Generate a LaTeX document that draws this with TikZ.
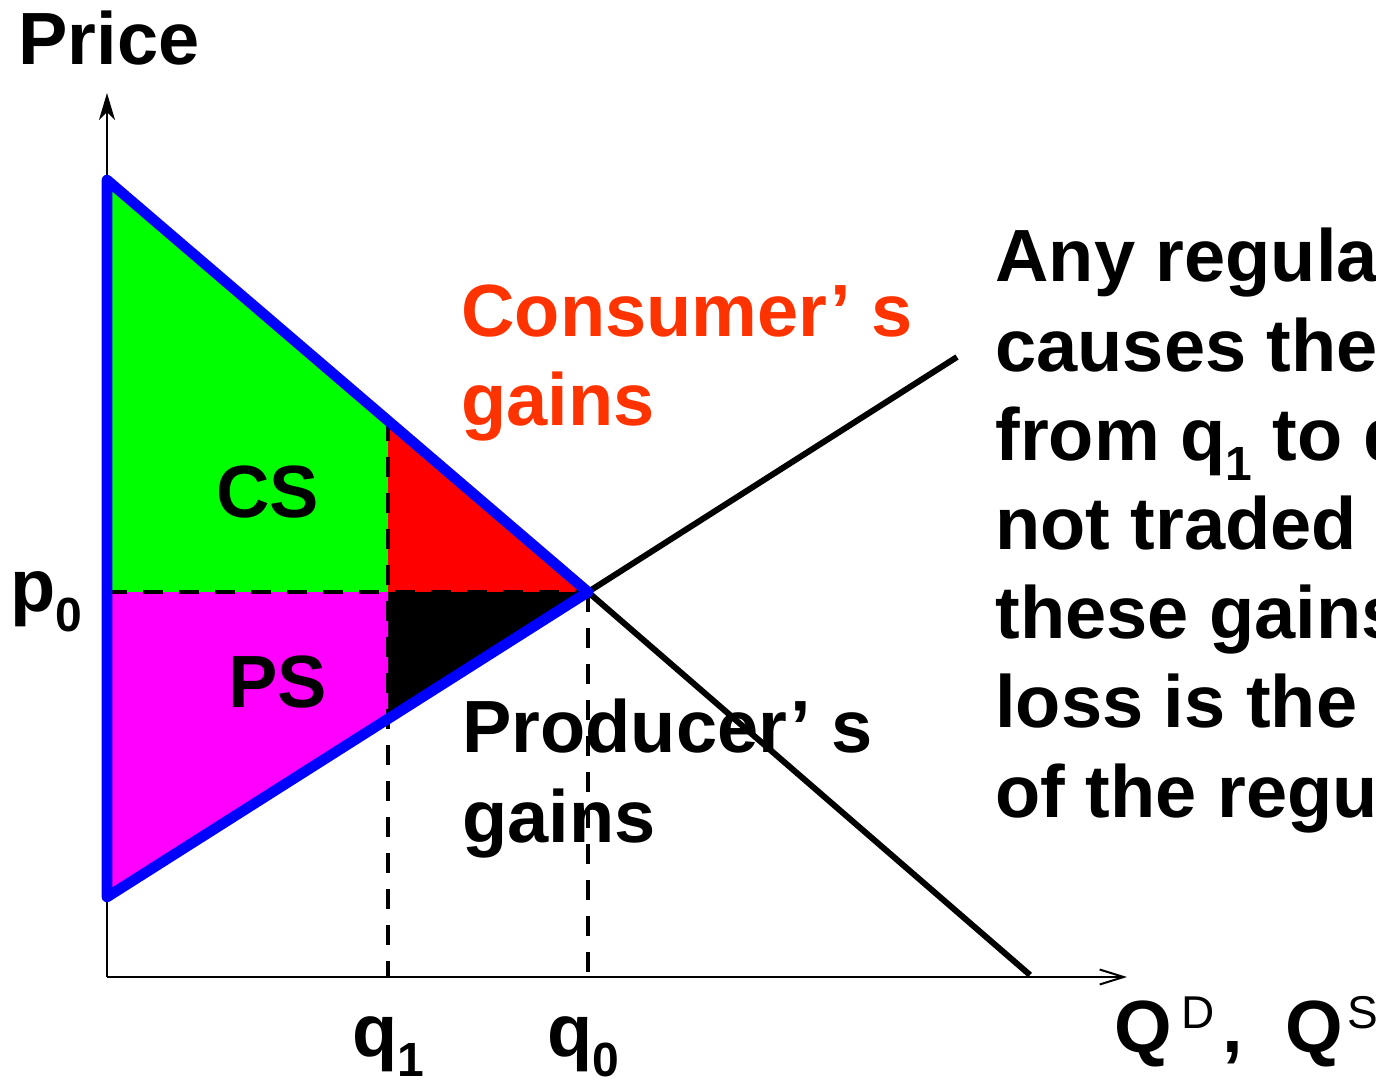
\documentclass[tikz,border=0pt]{standalone}
\usepackage{fontspec}
\setmainfont{Liberation Sans}
\usetikzlibrary{arrows.meta}
\definecolor{cgreen}{RGB}{0,255,0}
\definecolor{cred}{RGB}{255,0,0}
\definecolor{cmag}{RGB}{255,0,255}
\definecolor{cblue}{RGB}{0,0,255}
\definecolor{corange}{RGB}{255,51,0}
\newcommand\sbs[1]{\raisebox{-10pt}{\fontsize{24}{24}\selectfont #1}}
\newcommand\sps[1]{\raisebox{12pt}{\fontsize{23}{23}\selectfont\mdseries #1}}
\begin{document}
\begin{tikzpicture}[x=0.5pt,y=-0.5pt,
  lbl/.style={font=\fontsize{37}{44.6}\selectfont\bfseries, inner sep=0pt, anchor=base west},
  dsh/.style={line width=2.2pt, dash pattern=on 10pt off 8pt},
  curveline/.style={line width=3pt},
  axisline/.style={line width=1pt}]
\clip (0,0) rectangle (1376,1080);
\fill[white] (0,0) rectangle (1376,1080);
\coordinate (O) at (107,977);
\coordinate (A) at (107,180);
\coordinate (B) at (107,897);
\coordinate (E) at (588,592);
\coordinate (D1) at (388,421);
\coordinate (S1) at (388,719);
\coordinate (M) at (388,592);
\coordinate (P0) at (107,592);
\coordinate (Dend) at (1030,975);
\coordinate (Send) at (957,357);
\coordinate (Q1) at (388,977);
\coordinate (Q0) at (588,977);
\coordinate (Ytip) at (107,93);
\coordinate (Xtip) at (1127,977);
% regions
\fill[cgreen] (A) -- (D1) -- (M) -- (P0) -- cycle;
\fill[cred] (D1) -- (E) -- (M) -- cycle;
\fill[black] (M) -- (E) -- (S1) -- cycle;
\fill[cmag] (P0) -- (M) -- (S1) -- (B) -- cycle;
% axes
\draw[axisline, -{Stealth[length=13.5pt,width=8pt,inset=4pt]}] (O) -- (Ytip);
\draw[axisline, -{Straight Barb[length=12pt,width=7.5pt]}] (O) -- (Xtip);
% labels
\node[lbl] (price) at (18,65) {Price};
\node[lbl] (cs) at (216,517) {CS};
\node[lbl] (ps) at (228,707) {PS};
\node[lbl] (p0) at (10,611) {p\sbs{0}};
\node[lbl] (q1) at (352,1056) {q\sbs{1}};
\node[lbl] (q0) at (547,1056) {q\sbs{0}};
\node[lbl] (qds) at (1114,1052) {Q\hspace{4.75pt}\sps{D}\hspace{4pt},\hspace{21pt}Q\hspace{2.5pt}\sps{S}};
\node[lbl, text=corange, align=left] (cg) at (461,426) {Consumer’ s\\gains};
\node[lbl, align=left] (pg) at (462,842) {Producer’ s\\gains};
\node[lbl, align=left] (note) at (995,817) {Any regulation\\causes the\\from q\sbs{1} to q\sbs{0}\\not traded\\these gains\\loss is the\\of the regulation};
% dashed guides
\draw[dsh] (P0) -- (E);
\draw[dsh] (D1) -- (Q1);
\draw[dsh] (E) -- (Q0);
% demand and supply beyond
\draw[curveline] (E) -- (Dend);
\draw[curveline] (E) -- (Send);
% blue triangle
\draw[cblue, line width=5.3pt, line join=round] (A) -- (E) -- (B) -- cycle;
\end{tikzpicture}
\end{document}
